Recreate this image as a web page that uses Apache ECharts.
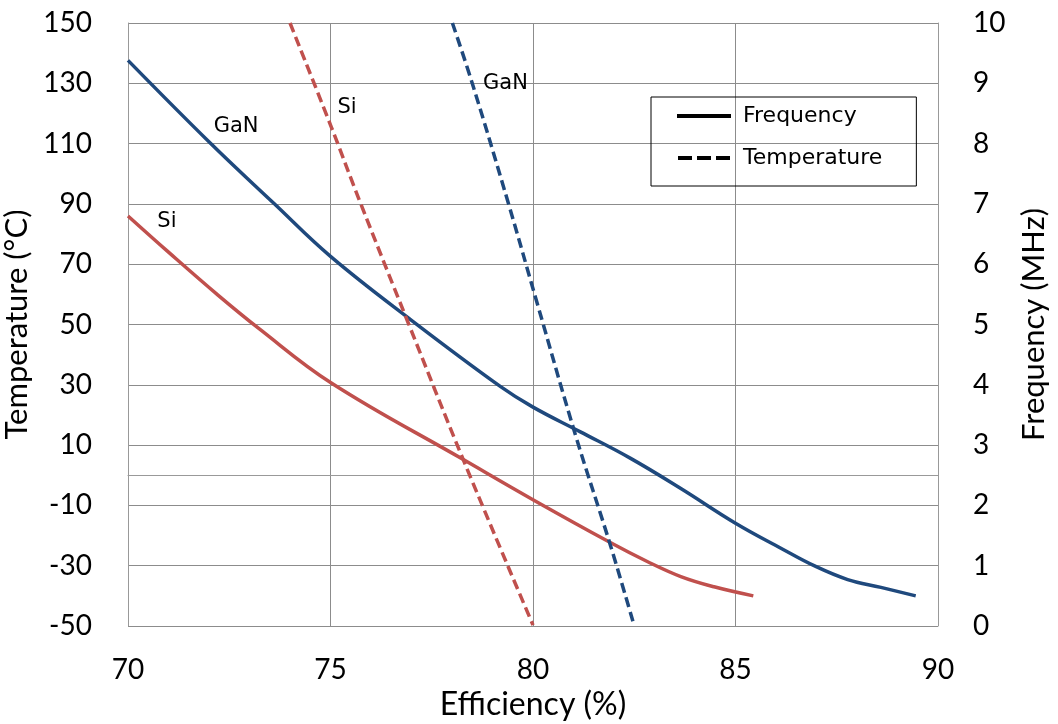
<!DOCTYPE html>
<html>
<head>
<meta charset="utf-8">
<script src="https://cdn.jsdelivr.net/npm/echarts@6/dist/echarts.min.js"></script>
<style>html,body{margin:0;padding:0;background:#fff}#c{width:1058px;height:724px}</style>
</head>
<body>
<div id="c"></div>
<script>
// Efficiency (%) values and readings
const ganFreqX = [70, 72.03, 73.6, 75, 77, 79.2, 80, 81.17, 82.41, 83.65, 85.01, 86.12, 86.94, 87.77, 88.59, 89.45];
const ganFreqY = [9.38, 8.01, 7.01, 6.13, 5.07, 3.97, 3.63, 3.22, 2.78, 2.28, 1.70, 1.29, 1.0, 0.77, 0.64, 0.50];
const siFreqX = [70, 71, 72.2, 73.22, 75.02, 78.28, 80.01, 81.92, 82.82, 83.65, 84.47, 85.44];
const siFreqY = [6.8, 6.2, 5.5, 4.94, 4.03, 2.76, 2.09, 1.38, 1.07, 0.82, 0.65, 0.5];
const siTempX = [74.0, 75.02, 75.74, 76.92, 78.28, 80.0];
const siTempY = [150, 115.5, 90.3, 50.5, 5.1, -49.7];
const ganTempX = [78.01, 78.5, 79.39, 80.1, 81.05, 81.92, 82.5];
const ganTempY = [150, 130, 90.3, 57.2, 13.3, -23.6, -50];
const legendNames = ['Frequency', 'Temperature'];
const xTitle = 'Efficiency (%)';
const yLeftTitle = 'Temperature (°C)';
const yRightTitle = 'Frequency (MHz)';
// label anchors (data units of each series' axis)
const ganFreqLabel = [72.67, 8.29];
const siFreqLabel = [70.96, 6.7];
const siTempLabel = [75.41, 122];
const ganTempLabel = [79.32, 129.8];

const BLUE = '#1F497D', RED = '#C0504D';
const AXF = 'Lato, "Open Sans", sans-serif';
const LBF = '"DejaVu Sans", sans-serif';
const zip = (xs, ys) => xs.map((x, i) => [x, ys[i]]);
const txt = (name, coord) => ({
  symbol: 'circle', symbolSize: 1,
  itemStyle: {color: 'rgba(0,0,0,0)'},
  label: {show: true, position: 'inside', color: '#000', fontFamily: LBF, fontSize: 21, formatter: name},
  data: [{coord: coord}]
});

const chart = echarts.init(document.getElementById('c'), null, {renderer: 'canvas'});
chart.setOption({
  animation: false,
  backgroundColor: '#fff',
  grid: {left: 128, right: 120, top: 23, bottom: 98, outerBoundsMode: 'none'},
  legend: {
    data: [
      {name: legendNames[0], icon: 'path://M0,0H54V4H0Z'},
      {name: legendNames[1], icon: 'path://M0,0H14V4H0Z M19,0H33V4H19Z M38,0H52V4H38Z'}
    ],
    orient: 'vertical',
    left: 651, top: 97,
    padding: [7, 34, 16, 26],
    itemGap: 18,
    itemWidth: 54, itemHeight: 4,
    borderColor: '#000', borderWidth: 1,
    textStyle: {fontFamily: LBF, fontSize: 22, color: '#000', lineHeight: 24, padding: [0, 0, 0, 7]}
  },
  xAxis: {
    type: 'value', min: 70, max: 90, interval: 5,
    name: xTitle, nameLocation: 'middle', nameGap: 58,
    nameTextStyle: {fontFamily: AXF, fontSize: 32, color: '#000'},
    axisLine: {show: true, lineStyle: {color: '#999', width: 1}},
    axisTick: {show: false},
    axisLabel: {fontFamily: AXF, fontSize: 28, color: '#000', margin: 30},
    splitLine: {show: true, lineStyle: {color: '#8c8c8c', width: 1}}
  },
  yAxis: [{
    type: 'value', min: -50, max: 150, interval: 20, position: 'left',
    name: yLeftTitle, nameLocation: 'middle', nameGap: 75, nameRotate: 90,
    nameTextStyle: {fontFamily: AXF, fontSize: 31, color: '#000'},
    axisLine: {show: true, lineStyle: {color: '#999', width: 1}},
    axisTick: {show: false},
    axisLabel: {fontFamily: AXF, fontSize: 28, color: '#000', margin: 36},
    splitLine: {show: true, lineStyle: {color: '#8c8c8c', width: 1}}
  }, {
    type: 'value', min: 0, max: 10, interval: 1, position: 'right',
    name: yRightTitle, nameLocation: 'middle', nameGap: 80, nameRotate: 90,
    nameTextStyle: {fontFamily: AXF, fontSize: 31, color: '#000'},
    axisLine: {show: true, lineStyle: {color: '#999', width: 1}},
    axisTick: {show: false},
    axisLabel: {fontFamily: AXF, fontSize: 28, color: '#000', margin: 35},
    splitLine: {show: false}
  }],
  series: [
    {name: 'GaN Frequency', type: 'line', yAxisIndex: 1, data: zip(ganFreqX, ganFreqY),
     smooth: 0.4, showSymbol: false, lineStyle: {color: BLUE, width: 3.5}, itemStyle: {color: BLUE},
     markPoint: txt('GaN', ganFreqLabel)},
    {name: 'Si Frequency', type: 'line', yAxisIndex: 1, data: zip(siFreqX, siFreqY),
     smooth: 0.4, showSymbol: false, lineStyle: {color: RED, width: 3.5}, itemStyle: {color: RED},
     markPoint: txt('Si', siFreqLabel)},
    {name: 'Si Temperature', type: 'line', yAxisIndex: 0, data: zip(siTempX, siTempY),
     smooth: 0.4, showSymbol: false, lineStyle: {color: RED, width: 3.5, type: [10, 5]}, itemStyle: {color: RED},
     markPoint: txt('Si', siTempLabel)},
    {name: 'GaN Temperature', type: 'line', yAxisIndex: 0, data: zip(ganTempX, ganTempY),
     smooth: 0.4, showSymbol: false, lineStyle: {color: BLUE, width: 3.5, type: [10, 5]}, itemStyle: {color: BLUE},
     markPoint: txt('GaN', ganTempLabel)},
    {name: legendNames[0], type: 'line', data: [], symbol: 'none',
     lineStyle: {color: '#000', width: 4}, itemStyle: {color: '#000'}},
    {name: legendNames[1], type: 'line', data: [], symbol: 'none',
     lineStyle: {color: '#000', width: 4, type: [12, 5]}, itemStyle: {color: '#000'}}
  ]
});
</script>
</body>
</html>
